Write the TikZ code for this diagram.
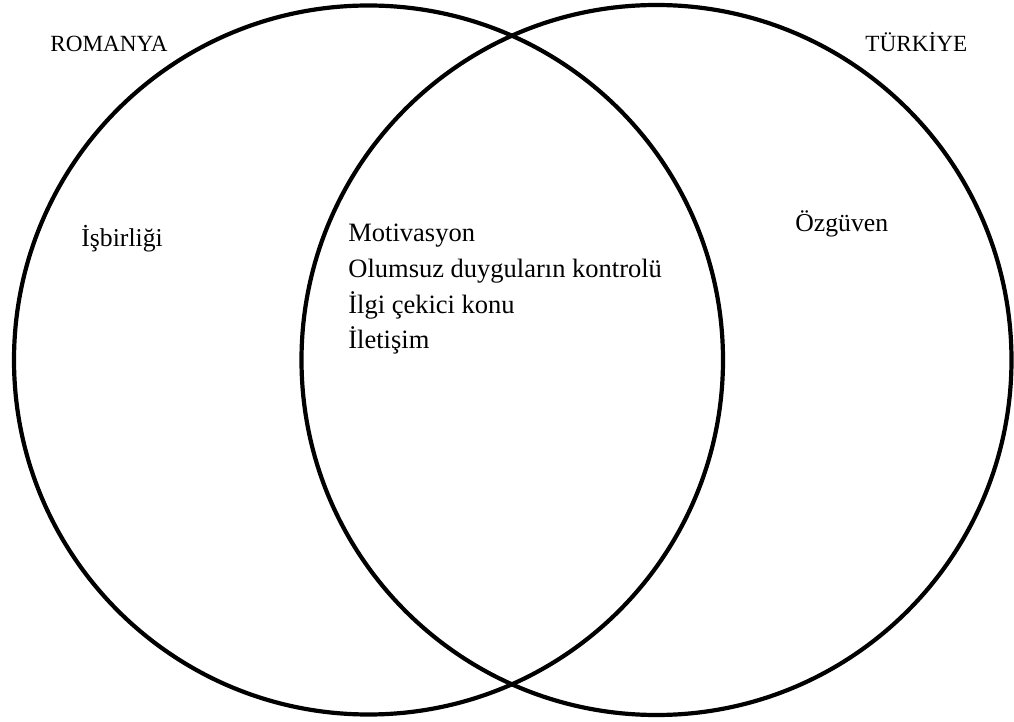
\documentclass[tikz,border=0pt]{standalone}
\usepackage{fontspec}
\setmainfont{Liberation Serif}
\begin{document}
\begin{tikzpicture}[x=0.5pt, y=-0.5pt,
  ring/.style={draw=black, line width=2.1pt},
  lbl/.style={anchor=base west, inner sep=0pt},
  title/.style={lbl, font=\fontsize{11.6pt}{14pt}\selectfont},
  item/.style={lbl, font=\fontsize{12.85pt}{15pt}\selectfont},
  shared/.style={lbl, font=\fontsize{13.25pt}{16pt}\selectfont}]
\useasboundingbox (0,0) rectangle (1014,722);
% the two sets
\draw[ring] (368.5,360) circle[radius=354.5];
\draw[ring] (656.5,360) circle[radius=355];
% set titles
\node[title] (romanya) at (50,52) {ROMANYA};
\node[title] (turkiye) at (865,52) {TÜRKİYE};
% left-only item
\node[item] (isbirligi) at (81,247) {İşbirliği};
% shared items
\node[shared] (m1) at (348,242) {Motivasyon};
\node[shared] (m2) at (348,278) {Olumsuz duyguların kontrolü};
\node[shared] (m3) at (348,313.5) {İlgi çekici konu};
\node[shared] (m4) at (348,349) {İletişim};
% right-only item
\node[item] (ozguven) at (795,232) {Özgüven};
\end{tikzpicture}
\end{document}
